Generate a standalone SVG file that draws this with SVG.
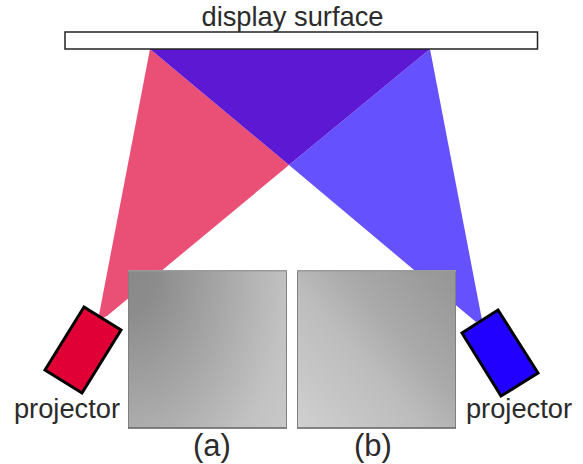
<svg xmlns="http://www.w3.org/2000/svg" width="583" height="464" viewBox="0 0 583 464">
<style>
.t{font-family:"Liberation Sans",Arial,sans-serif;fill:#2b2b2b;text-anchor:middle}
.l{font-size:27.300px}
.c{font-size:31px}
.p{stroke:#000;stroke-width:3;stroke-linejoin:miter}
.et{stroke:#9a9a9a;stroke-width:1.500;fill:none}
.es{stroke:#808080;stroke-width:1;fill:none}
.eb{stroke:#666;stroke-width:1.500;fill:none}
</style>
<defs>
<radialGradient id="a" cx="0" cy="0" r="1.25" gradientTransform="scale(1 1.45)"><stop offset="0" stop-color="#888"/><stop offset=".15" stop-color="#8c8c8c"/><stop offset=".49" stop-color="#a8a8a8"/><stop offset=".8" stop-color="#c2c2c2"/><stop offset="1" stop-color="#c9c9c9"/></radialGradient>
<linearGradient id="b" x1="0" y1="1" x2="1" y2="0.100"><stop offset="0" stop-color="#d0d0d0"/><stop offset=".45" stop-color="#bcbcbc"/><stop offset=".65" stop-color="#aaaaaa"/><stop offset="1" stop-color="#979797"/></linearGradient>
</defs>
<g id="beams">
<polygon id="beam-red" points="150,49 289,165 107,316 100,319 99,315" fill="#ea5076"/>
<polygon id="beam-blue" points="430,49 289,165 476,322 482,320" fill="#6651ff"/>
<polygon id="beam-overlap" points="150,49 430,49 289,165" fill="#5c18d2"/>
</g>
<g id="display-surface">
<rect x="65" y="32" width="472.500" height="17" fill="#fff" stroke="#222" stroke-width="1.500"/>
<text class="t l" x="292.500" y="26">display surface</text>
</g>
<g id="projector-left">
<polygon class="p" points="84,307 121,330 82,393 45,370" fill="#e00036"/>
<text class="t l" x="67" y="418">projector</text>
</g>
<g id="projector-right">
<polygon class="p" points="498,310 538,373 501,396 462,333" fill="#2200ff"/>
<text class="t l" x="519" y="418">projector</text>
</g>
<g id="panel-a">
<rect x="128" y="270" width="159" height="158.500" fill="url(#a)"/>
<path class="es" d="M128.500 270V428M286.500 270V428"/>
<path class="et" d="M128 270.700H287"/>
<path class="eb" d="M128 428H287"/>
<text class="t c" x="212" y="456">(a)</text>
</g>
<g id="panel-b">
<rect x="297" y="270" width="159" height="158.500" fill="url(#b)"/>
<path class="es" d="M297.500 270V428M455.500 270V428"/>
<path class="et" d="M297 270.700H456"/>
<path class="eb" d="M297 428H456"/>
<text class="t c" x="373" y="456">(b)</text>
</g>
<g id="connectors"/>
</svg>
